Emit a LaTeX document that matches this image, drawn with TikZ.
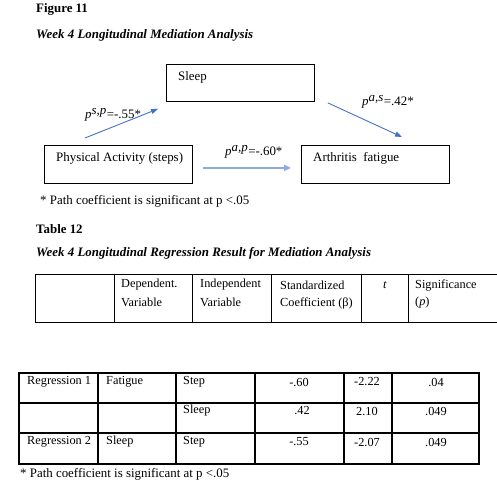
\documentclass[tikz,border=0pt]{standalone}
\usepackage{fontspec}
\setmainfont{Liberation Serif}
\usetikzlibrary{arrows.meta}
\definecolor{arrowblue}{HTML}{4472C4}
\definecolor{lightblue}{HTML}{8FAADC}
\tikzset{
  txt/.style={anchor=west,inner sep=0pt,font=\fontsize{12.9}{15}\selectfont},
  cell/.style={anchor=west,inner sep=0pt,font=\fontsize{12.3}{14}\selectfont},
  ctr/.style={anchor=center,inner sep=0pt,font=\fontsize{12.3}{14}\selectfont},
  boxnode/.style={draw=black,line width=0.9pt,rectangle,inner sep=0pt,anchor=north west},
  patharrow/.style={draw=arrowblue,line width=0.9pt,-{Triangle[length=7pt,width=5pt]}},
  patharrowlight/.style={draw=lightblue,line width=1.8pt,-{Triangle[length=7pt,width=6pt]}},
  rule/.style={draw=black,line width=0.9pt},
  rulethick/.style={draw=black,line width=1.2pt}
}
\begin{document}
\begin{tikzpicture}[x=1pt,y=-1pt]
\useasboundingbox[fill=white] (0,0) rectangle (497,485);
% titles
\node[txt,font=\fontsize{12.9}{15}\selectfont\bfseries] (fig) at (36,9) {Figure 11};
\node[txt,font=\fontsize{12.9}{15}\selectfont\bfseries\itshape] (figtitle) at (36,35) {Week 4 Longitudinal Mediation Analysis};
% boxes
\node[boxnode,minimum width=148pt,minimum height=37pt] (sleep) at (166,64) {};
\node[boxnode,minimum width=148pt,minimum height=38pt] (pa) at (44,145) {};
\node[boxnode,minimum width=148pt,minimum height=38pt] (af) at (301,145) {};
\node[txt] (sleeptxt) at ([xshift=12pt,yshift=-13pt]sleep.north west) {Sleep};
\node[txt] (patxt) at ([xshift=12pt,yshift=-13pt]pa.north west) {Physical Activity (steps)};
\node[txt] (aftxt) at ([xshift=12pt,yshift=-13pt]af.north west) {Arthritis\ \ fatigue};
% arrow end points
\coordinate (a1s) at ([xshift=41pt,yshift=7pt]pa.north west);
\coordinate (a1e) at ([xshift=-8pt,yshift=-7pt]sleep.south west);
\coordinate (a2s) at ([xshift=10pt,yshift=16pt]pa.south east);
\coordinate (a2e) at ([xshift=-10pt,yshift=16pt]af.south west);
\coordinate (a3s) at ([xshift=13pt,yshift=-1pt]sleep.south east);
\coordinate (a3e) at ([xshift=101pt,yshift=8pt]af.north west);
\draw[patharrow] (a1s) -- (a1e);
\draw[patharrowlight] (a2s) -- (a2e);
\draw[patharrow] (a3s) -- (a3e);
% labels
\node[txt] (l1) at (85,115) {\textit{p}$^{\textit{s,p}}$=-.55*};
\node[txt] (l2) at (225,152) {\textit{p}$^{\textit{a,p}}$=-.60*};
\node[txt] (l3) at (362,102) {\textit{p}$^{\textit{a,s}}$=.42*};
% notes
\node[txt] (note1) at (40,201) {* Path coefficient is significant at p <.05};
\node[txt,font=\fontsize{12.9}{15}\selectfont\bfseries] (tab) at (36,229) {Table 12};
\node[txt,font=\fontsize{12.9}{15}\selectfont\bfseries\itshape] (tabtitle) at (36,253) {Week 4 Longitudinal Regression Result for Mediation Analysis};
% header table
\coordinate (h1) at (35,274);
\coordinate (h2) at (497,322);
\draw[rule] (h1) -- (h1 -| h2);
\draw[rule] (h1 |- h2) -- (h2);
\draw[rule] (h1) -- (h1 |- h2);
\foreach \cx in {114,192,271,361,408} \draw[rule] (\cx,274) -- (\cx,322);
\node[cell] (hd1) at (121,285) {Dependent.};
\node[cell] (hd2) at (121,302) {Variable};
\node[cell] (hi1) at (200,285) {Independent};
\node[cell] (hi2) at (200,302) {Variable};
\node[cell] (hs1) at (280,285) {Standardized};
\node[cell] (hs2) at (280,303) {Coefficient (β)};
\node[ctr] (ht) at (385,285) {\textit{t}};
\node[cell] (hp1) at (415,285) {Significance};
\node[cell] (hp2) at (415,303) {(\textit{p})};
% main table
\coordinate (t1) at (19,373);
\coordinate (t2) at (479,464);
\draw[rulethick] (t1) rectangle (t2);
\foreach \ry in {403,433} \draw[rulethick] (19,\ry) -- (479,\ry);
\foreach \cx in {98,176,255,344,392} \draw[rulethick] (\cx,373) -- (\cx,464);
\node[cell] (r1a) at (27,382) {Regression 1};
\node[cell] (r1b) at (106,382) {Fatigue};
\node[cell] (r1c) at (183,382) {Step};
\node[ctr] (r1d) at (299,382) {-.60};
\node[ctr] (r1e) at (367,382) {-2.22};
\node[ctr] (r1f) at (436,382) {.04};
\node[cell] (r2c) at (183,411) {Sleep};
\node[ctr] (r2d) at (302,411) {.42};
\node[ctr] (r2e) at (367,411) {2.10};
\node[ctr] (r2f) at (436,411) {.049};
\node[cell] (r3a) at (27,442) {Regression 2};
\node[cell] (r3b) at (106,442) {Sleep};
\node[cell] (r3c) at (183,442) {Step};
\node[ctr] (r3d) at (299,442) {-.55};
\node[ctr] (r3e) at (367,442) {-2.07};
\node[ctr] (r3f) at (436,442) {.049};
\node[txt] (note2) at (20,474) {* Path coefficient is significant at p <.05};
\end{tikzpicture}
\end{document}
